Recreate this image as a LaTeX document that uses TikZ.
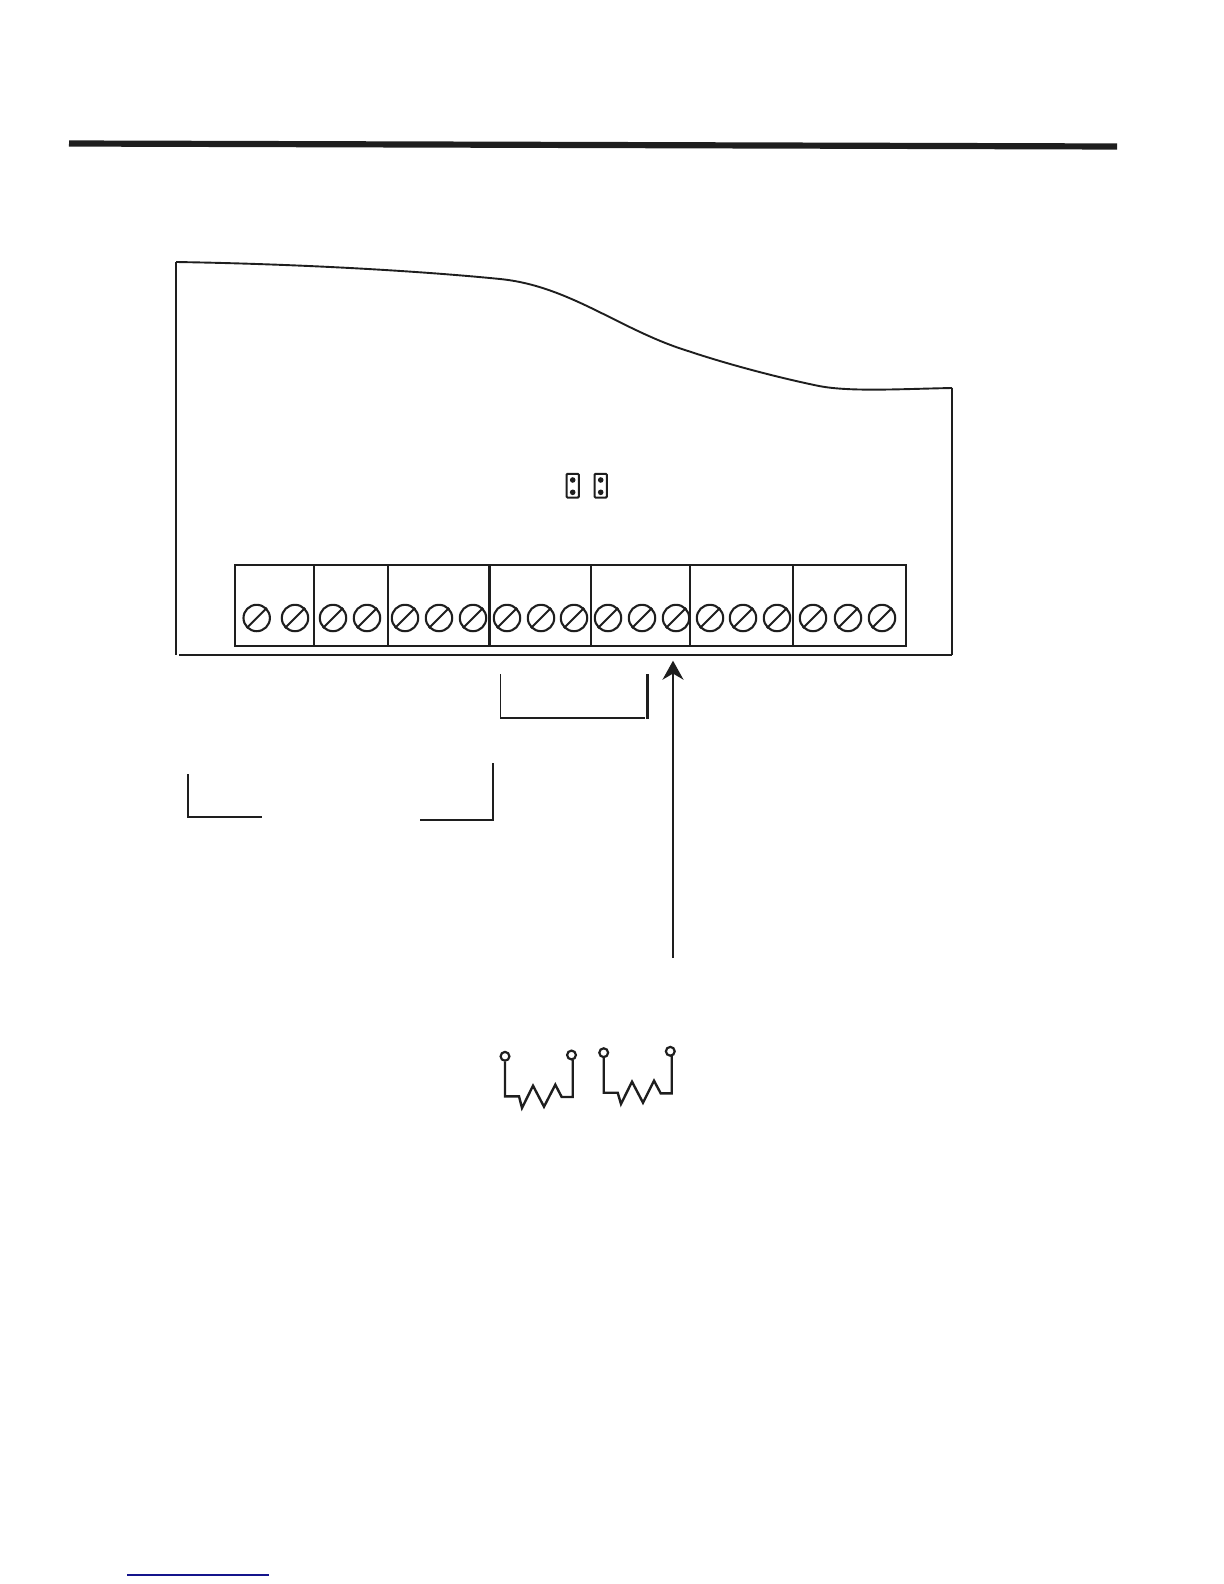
\documentclass[tikz,border=0pt]{standalone}
\usetikzlibrary{arrows.meta}
\definecolor{inkline}{RGB}{30,30,30}
\definecolor{linkblue}{RGB}{20,20,140}
\tikzset{
  wire/.style={draw=inkline,line width=0.95pt,line join=miter},
  screw/.style={circle,draw=inkline,line width=1.05pt,minimum size=13.2pt,inner sep=0pt},
  pinbox/.style={draw=inkline,line width=1pt,rounded corners=0.5pt,minimum width=6.2pt,minimum height=11.8pt,inner sep=0pt},
  pindot/.style={circle,fill=inkline,minimum size=2.8pt,inner sep=0pt},
  lug/.style={circle,draw=inkline,line width=1.1pt,minimum size=4.4pt,inner sep=0pt}
}
\begin{document}
\begin{tikzpicture}[x=0.5pt,y=-0.5pt]
    \useasboundingbox (0,0) rectangle (1224,1584);
    \draw [inkline,line width=3.1pt] (69,143.5) -- (1117,146.5);% Heavy rule
    % Board outline
    \draw [wire] (176,262) -- (176,655);
    \draw [wire] (176,262) .. controls (300,264) and (420,271) .. (500,279)
        .. controls (570,286) and (620,330) .. (688,351)
        .. controls (730,365) and (780,378) .. (819,386)
        .. controls (850,392) and (900,389) .. (952,388);
    \draw [wire] (952,388) -- (952,655);
    \draw [wire,line width=1.05pt] (179,655) -- (952,655);
    % Jumpers
    \foreach \x/\name in {572.7/a,600.7/b}{
      \node[pinbox] (jp\name) at (\x,485.7) {};
      \node[pindot] (jp\name top) at (\x,480) {};
      \node[pindot] (jp\name bot) at (\x,492.3) {};}
    % Terminal strip
    \draw [wire,line width=1.05pt] (235,565) rectangle (905.7,645.7);
    \foreach \x in {314,388,591,690,793}{
      \draw [wire] (\x,565) -- (\x,645.7);}
    \draw [wire,line width=1.4pt] (489.5,565) -- (489.5,645.7);
    \foreach \x/\n in {256.7/1,295/2,333/3,367/4,405/5,439/6,473/7,507/8,541/9,574/10,608/11,642/12,676/13,710/14,743/15,777/16,813/17,848/18,882/19}{
      \node[screw] (s\n) at (\x,618) {};
      \draw [inkline,line width=1pt] (s\n.225) -- (s\n.45);}
    % Arrow and brackets
    \coordinate (arrowfoot) at (673,958);
    \coordinate (arrowtip) at (673,660.7);
    \draw [wire,line width=1.1pt,-{Stealth[length=9.5pt,width=10.5pt]}] (arrowfoot) -- (arrowtip);
    \draw [wire] (500.5,674) -- (500.5,717.7) -- (645,717.7);
    \draw [inkline,line width=1.5pt] (647.3,674) -- (647.3,718.5);
    \draw [wire] (188,774) -- (188,817) -- (262,817);
    \draw [inkline,line width=1.3pt] (420,820) -- (493,820) -- (493,763);
    % Resistors
    \node[lug] (ra) at (505,1056.3) {};
    \node[lug] (rb) at (571.5,1055) {};
    \draw [wire,line width=1.2pt] (ra) -- (505,1096.3) -- (519,1096.3) -- (522,1108) -- (533,1085.7)
        -- (544,1106.7) -- (555.3,1084.7) -- (561.7,1097) -- (572.7,1097) -- (572.7,1060);
    \node[lug] (rc) at (603.7,1052.7) {};
    \node[lug] (rd) at (670.3,1051.3) {};
    \draw [wire,line width=1.2pt] (rc) -- (603.7,1092.7) -- (617.7,1092.7) -- (621,1104) -- (632,1081.7)
        -- (643,1102.7) -- (654,1080.7) -- (660.7,1093.3) -- (671.7,1093.3) -- (671.7,1056);
    \draw [linkblue,line width=0.6pt] (127,1575) -- (269,1575);% Link underline
\end{tikzpicture}
\end{document}
